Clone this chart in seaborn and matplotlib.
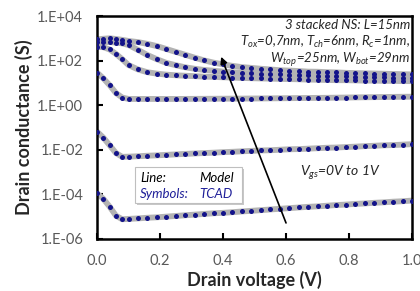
import numpy as np
import pandas as pd
import matplotlib
matplotlib.use("Agg")
import matplotlib.pyplot as plt
from matplotlib.patches import Rectangle
import seaborn as sns

# drain voltage grid (V)
vd = [0.0, 0.02, 0.04, 0.06, 0.08, 0.10, 0.13, 0.16, 0.19, 0.22, 0.25, 0.28,
      0.31, 0.34, 0.37, 0.40, 0.43, 0.46, 0.49, 0.52, 0.55, 0.58, 0.61, 0.64,
      0.67, 0.70, 0.73, 0.76, 0.79, 0.82, 0.85, 0.88, 0.91, 0.94, 0.97, 1.00]

# drain conductance (S) per gate voltage
gd_vg00 = [1.1e-4, 6.3e-5, 2.8e-5, 1.1e-5, 7.6e-6, 7.9e-6, 8.3e-6, 8.9e-6, 9.3e-6,
           1.0e-5, 1.07e-5, 1.15e-5, 1.23e-5, 1.32e-5, 1.41e-5, 1.48e-5, 1.58e-5,
           1.7e-5, 1.82e-5, 1.95e-5, 2.09e-5, 2.24e-5, 2.4e-5, 2.57e-5, 2.75e-5,
           2.88e-5, 3.09e-5, 3.31e-5, 3.47e-5, 3.72e-5, 3.89e-5, 4.17e-5, 4.37e-5,
           4.68e-5, 4.9e-5, 5.25e-5]
gd_vg02 = [6.5e-2, 3.5e-2, 1.6e-2, 7.1e-3, 4.8e-3, 4.9e-3, 5.1e-3, 5.4e-3, 5.6e-3,
           5.9e-3, 6.2e-3, 6.5e-3, 6.8e-3, 7.1e-3, 7.4e-3, 7.8e-3, 8.1e-3, 8.5e-3,
           8.9e-3, 9.3e-3, 9.5e-3, 1.0e-2, 1.05e-2, 1.07e-2, 1.12e-2, 1.17e-2,
           1.23e-2, 1.26e-2, 1.32e-2, 1.38e-2, 1.45e-2, 1.51e-2, 1.58e-2, 1.62e-2,
           1.7e-2, 1.78e-2]
gd_vg04 = [29, 16, 7.9, 3.5, 2.2, 1.9, 1.9, 1.9, 1.9, 1.9, 1.9, 1.91, 1.92, 1.93,
           1.94, 1.95, 1.96, 1.97, 1.99, 2.0, 2.02, 2.04, 2.06, 2.08, 2.1, 2.12,
           2.14, 2.17, 2.2, 2.23, 2.26, 2.29, 2.32, 2.35, 2.38, 2.4]
gd_vg06 = [417, 398, 316, 200, 115, 63, 40, 30, 26, 23.4, 21.9, 20.9, 20, 19, 18.6,
           17.8, 17.4, 16.6, 16.2, 15.8, 15.5, 15.1, 14.8, 14.5, 14.1, 13.8, 13.5,
           13.2, 13.2, 12.9, 12.6, 12.6, 12.3, 12.3, 12.0, 12.0]
gd_vg08 = [708, 692, 676, 646, 589, 501, 302, 178, 115, 79, 62, 50, 43, 38, 35, 32,
           30, 28, 27, 26, 24.5, 24, 23, 22.4, 21.9, 21.4, 20.4, 20, 19.5, 19, 18.6,
           18.2, 17.8, 17.4, 17, 16.6]
gd_vg10 = [891, 955, 1000, 933, 851, 759, 676, 562, 447, 331, 245, 182, 135, 102, 81,
           68, 58, 51, 47, 43, 40, 37, 35.5, 34, 32, 31.6, 30.2, 29.5, 28.2, 27.5,
           26.9, 26.3, 25.7, 25.1, 24.5, 24]

vgs_labels = ["0.0", "0.2", "0.4", "0.6", "0.8", "1.0"]
curves = [gd_vg00, gd_vg02, gd_vg04, gd_vg06, gd_vg08, gd_vg10]

df = pd.concat([pd.DataFrame({"vd": vd, "gd": g, "vgs": lab})
                for lab, g in zip(vgs_labels, curves)], ignore_index=True)

sns.set_style("ticks")
plt.rcParams["font.family"] = ["Lato", "DejaVu Sans"]
plt.rcParams["mathtext.fontset"] = "custom"
plt.rcParams["mathtext.rm"] = "Lato:italic"
plt.rcParams["mathtext.it"] = "Lato:italic"

fig = plt.figure(figsize=(4.2, 2.91), dpi=100)
ax = fig.add_axes([0.231, 0.179, 0.75, 0.766])

# model lines (thick grey) and TCAD symbols (navy dots)
sns.lineplot(data=df, x="vd", y="gd", units="vgs", estimator=None, color="#b3b3b3",
             linewidth=4.2, ax=ax, legend=False)
sns.scatterplot(data=df, x="vd", y="gd", color="#13138a", s=13, linewidth=0,
                ax=ax, legend=False, zorder=3)

ax.set_yscale("log")
ax.set_xlim(0, 1.0)
ax.set_ylim(1e-6, 1e4)
ax.set_xticks([0.0, 0.2, 0.4, 0.6, 0.8, 1.0])
ax.set_xticklabels(["0.0", "0.2", "0.4", "0.6", "0.8", "1.0"])
ax.set_yticks([1e-6, 1e-4, 1e-2, 1e0, 1e2, 1e4])
ax.set_yticklabels(["1.E-06", "1.E-04", "1.E-02", "1.E+00", "1.E+02", "1.E+04"])
ax.minorticks_off()
ax.tick_params(direction="in", length=4, width=1.5, colors="black",
               labelcolor="#595959", labelsize=10.5)
ax.tick_params(axis="x", pad=11)
ax.tick_params(axis="y", pad=10)
for sp in ax.spines.values():
    sp.set_linewidth(1.8)
    sp.set_color("black")

ax.set_xlabel("Drain voltage (V)", fontsize=13, fontweight="bold", labelpad=2)
ax.set_ylabel("Drain conductance (S)", fontsize=13, fontweight="bold", labelpad=3)

# device parameters
fs = 9.5
ax.text(0.994, 0.96, "3 stacked NS: L=15nm", transform=ax.transAxes, ha="right",
        va="center", fontsize=fs, style="italic")
ax.text(0.994, 0.883, r"$T_{ox}$=0,7nm, $T_{ch}$=6nm, $R_c$=1nm,", transform=ax.transAxes,
        ha="right", va="center", fontsize=fs, style="italic")
ax.text(0.994, 0.803, r"$W_{top}$=25nm, $W_{bot}$=29nm", transform=ax.transAxes,
        ha="right", va="center", fontsize=fs, style="italic")

# Vgs arrow
ax.annotate("", xy=(0.394, 148), xytext=(0.6, 5.2e-6),
            arrowprops=dict(arrowstyle="-|>", color="black", lw=1.2,
                            mutation_scale=10, shrinkA=0, shrinkB=0))
ax.text(0.644, 0.296, r"$V_{gs}$=0V to 1V", transform=ax.transAxes, ha="left",
        va="center", fontsize=10, style="italic")

# legend box
ax.add_patch(Rectangle((0.127, 0.152), 0.339, 0.162, transform=ax.transAxes,
                       facecolor="#c8c8c8", edgecolor="none", zorder=4))
ax.add_patch(Rectangle((0.121, 0.161), 0.339, 0.162, transform=ax.transAxes,
                       facecolor="white", edgecolor="#bfbfbf", lw=0.8, zorder=5))
ax.text(0.137, 0.274, "Line:", transform=ax.transAxes, va="center", fontsize=fs,
        style="italic", color="black", zorder=6)
ax.text(0.324, 0.274, "Model", transform=ax.transAxes, va="center", fontsize=fs,
        style="italic", color="black", zorder=6)
ax.text(0.137, 0.202, "Symbols:", transform=ax.transAxes, va="center", fontsize=fs,
        style="italic", color="#1f1f99", zorder=6)
ax.text(0.324, 0.202, "TCAD", transform=ax.transAxes, va="center", fontsize=fs,
        style="italic", color="#1f1f99", zorder=6)

fig.savefig("out.png", dpi=100)
